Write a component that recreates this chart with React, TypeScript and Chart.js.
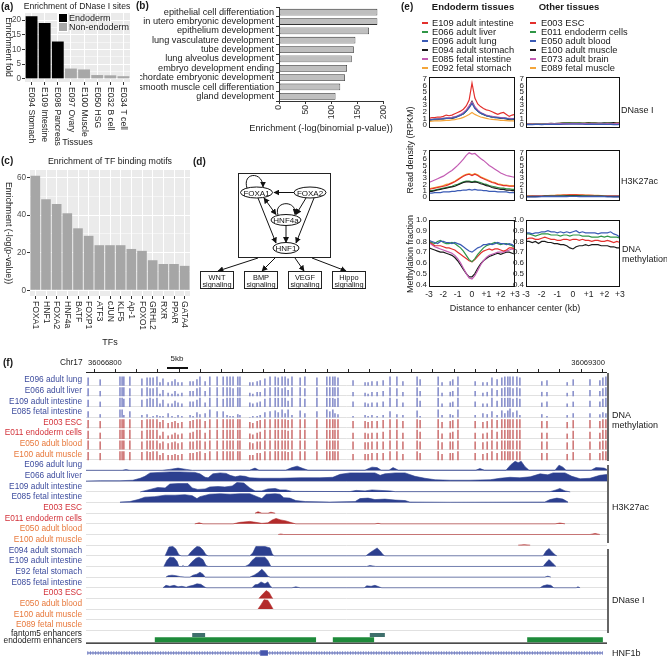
import React, { useEffect, useRef } from 'react';
import { Chart, registerables } from 'chart.js';

Chart.register(...registerables);
const FONT = "'Liberation Sans', Arial, Helvetica, sans-serif";
Chart.defaults.font.family = FONT;
Chart.defaults.color = '#222';

// ================= (a) DNase I enrichment =================
const tissueNames = ['E094 Stomach', 'E109 Intestine', 'E098 Pancreas', 'E097 Ovary', 'E100 Muscle', 'E050 HSG', 'E032 B cell', 'E034 T cell'];
const tissueFold = [21.3, 19.0, 12.7, 3.5, 3.2, 1.3, 1.2, 0.9];
const tissueIsEndoderm = [true, true, true, false, false, false, false, false];

// ================= (b) GO enrichment =================
const goTerms = ['epithelial cell differentiation', 'in utero embryonic development', 'epithelium development', 'lung vasculature development', 'tube development', 'lung alveolus development', 'embryo development ending', 'chordate embryonic development', 'smooth muscle cell differentiation', 'gland development'];
const goEnrichment = [188, 188, 172, 146, 143, 139, 130, 126, 117, 108];

// ================= (c) TF motifs =================
const tfNames = ['FOXA1', 'HNF1', 'FOXA2', 'HNF4a', 'BATF', 'FOXP1', 'ATF3', 'cJUN', 'KLF5', 'Ap-1', 'FOXO1', 'GRHL2', 'RXR', 'PPAR', 'GATA4'];
const tfEnrichment = [61, 48.5, 46, 41, 33, 29, 24, 24, 24, 22, 21, 16, 14, 14, 13];

// ================= (e) profiles =================
const distanceKb = [-3, -2.8, -2.6, -2.4, -2.2, -2, -1.8, -1.6, -1.4, -1.2, -1, -0.8, -0.6, -0.4, -0.2, 0, 0.2, 0.4, 0.6, 0.8, 1, 1.2, 1.4, 1.6, 1.8, 2, 2.2, 2.4, 2.6, 2.8, 3];
const distanceTickLabels = ['-3', '-2', '-1', '0', '+1', '+2', '+3'];
const endoLegend = ['E109 adult intestine', 'E066 adult liver', 'E096 adult lung', 'E094 adult stomach', 'E085 fetal intestine', 'E092 fetal stomach'];
const otherLegend = ['E003 ESC', 'E011 endoderm cells', 'E050 adult blood', 'E100 adult muscle', 'E073 adult brain', 'E089 fetal muscle'];
const legendColors = ['#e3302d', '#2f9646', '#3b5bb5', '#1a1a1a', '#c35cb3', '#f4a53b'];

const dnaseEndoRed = [1.0, 1.1, 1.1, 1.2, 1.2, 1.3, 1.5, 1.4, 1.5, 1.7, 1.9, 2.1, 2.4, 2.9, 3.8, 6.4, 4.1, 3.2, 2.8, 2.5, 2.3, 2.2, 2.0, 1.8, 1.6, 1.8, 1.9, 1.6, 1.3, 1.5, 1.6];
const dnaseEndoGreen = [0.8, 0.8, 0.9, 0.9, 0.9, 1.0, 1.0, 1.0, 1.1, 1.2, 1.3, 1.5, 1.7, 2.1, 2.7, 3.4, 2.6, 2.1, 1.8, 1.6, 1.4, 1.3, 1.2, 1.2, 1.1, 1.1, 1.1, 1.0, 0.9, 0.9, 1.0];
const dnaseEndoBlue = [0.8, 0.8, 0.85, 0.9, 0.9, 0.95, 1.0, 1.0, 1.05, 1.15, 1.3, 1.45, 1.7, 2.1, 2.6, 3.3, 2.5, 2.1, 1.8, 1.6, 1.4, 1.3, 1.2, 1.15, 1.1, 1.05, 1.0, 1.0, 0.9, 0.9, 0.95];
const dnaseEndoBlack = [0.7, 0.8, 0.8, 0.8, 0.9, 0.9, 1.0, 1.0, 1.0, 1.1, 1.3, 1.5, 1.7, 2.1, 2.8, 3.6, 2.7, 2.1, 1.8, 1.6, 1.4, 1.3, 1.2, 1.1, 1.1, 1.0, 1.0, 0.9, 0.8, 0.8, 0.9];
const dnaseEndoPurple = [0.8, 0.85, 0.9, 0.9, 0.95, 1.0, 1.05, 1.1, 1.15, 1.25, 1.4, 1.6, 1.9, 2.3, 2.9, 3.5, 2.8, 2.3, 1.9, 1.7, 1.5, 1.4, 1.3, 1.2, 1.2, 1.1, 1.1, 1.0, 1.0, 0.95, 1.0];
const dnaseEndoOrange = [0.5, 0.55, 0.6, 0.6, 0.6, 0.65, 0.7, 0.7, 0.75, 0.8, 0.9, 1.0, 1.15, 1.35, 1.6, 1.9, 1.6, 1.4, 1.2, 1.1, 1.0, 0.9, 0.85, 0.8, 0.75, 0.7, 0.7, 0.65, 0.6, 0.6, 0.6];

const dnaseOtherRed = [0.10, 0.12, 0.12, 0.10, 0.11, 0.13, 0.14, 0.12, 0.12, 0.11, 0.13, 0.15, 0.16, 0.18, 0.20, 0.22, 0.20, 0.18, 0.17, 0.16, 0.15, 0.18, 0.18, 0.15, 0.13, 0.15, 0.19, 0.18, 0.20, 0.24, 0.28];
const dnaseOtherGreen = [0.12, 0.13, 0.12, 0.14, 0.15, 0.14, 0.16, 0.15, 0.17, 0.18, 0.20, 0.22, 0.24, 0.26, 0.28, 0.30, 0.28, 0.26, 0.24, 0.22, 0.22, 0.24, 0.22, 0.20, 0.21, 0.22, 0.24, 0.22, 0.20, 0.22, 0.25];
const dnaseOtherBlue = [0.05, 0.06, 0.05, 0.06, 0.06, 0.05, 0.07, 0.06, 0.06, 0.07, 0.08, 0.09, 0.10, 0.10, 0.11, 0.12, 0.11, 0.10, 0.10, 0.09, 0.09, 0.10, 0.09, 0.08, 0.08, 0.07, 0.08, 0.06, 0.05, 0.05, 0.06];
const dnaseOtherBlack = [0.15, 0.16, 0.18, 0.16, 0.15, 0.18, 0.20, 0.20, 0.22, 0.21, 0.25, 0.26, 0.30, 0.30, 0.34, 0.36, 0.31, 0.30, 0.28, 0.30, 0.35, 0.32, 0.30, 0.26, 0.28, 0.30, 0.32, 0.30, 0.34, 0.30, 0.32];
const dnaseOtherPurple = [0.10, 0.10, 0.11, 0.12, 0.11, 0.12, 0.13, 0.14, 0.14, 0.15, 0.16, 0.18, 0.19, 0.20, 0.21, 0.22, 0.21, 0.20, 0.19, 0.18, 0.17, 0.18, 0.17, 0.16, 0.16, 0.17, 0.18, 0.17, 0.16, 0.18, 0.20];
const dnaseOtherOrange = [0.12, 0.13, 0.14, 0.13, 0.14, 0.15, 0.16, 0.17, 0.18, 0.18, 0.20, 0.22, 0.23, 0.25, 0.27, 0.28, 0.27, 0.25, 0.24, 0.23, 0.22, 0.23, 0.22, 0.21, 0.20, 0.21, 0.22, 0.21, 0.20, 0.22, 0.24];

const h3EndoPurple = [2.3, 2.5, 2.7, 2.9, 3.1, 3.3, 3.6, 3.9, 4.2, 4.6, 5.0, 5.5, 6.0, 6.6, 7.0, 6.8, 6.9, 6.5, 6.1, 5.8, 5.4, 5.0, 4.7, 4.4, 4.1, 3.8, 3.6, 3.4, 3.3, 3.2, 3.1];
const h3EndoOrange = [1.3, 1.4, 1.5, 1.6, 1.7, 1.8, 2.0, 2.1, 2.3, 2.5, 2.8, 3.1, 3.4, 3.6, 3.7, 3.5, 3.7, 3.5, 3.2, 3.0, 2.8, 2.6, 2.4, 2.3, 2.1, 2.0, 1.9, 1.9, 1.8, 1.8, 1.8];
const h3EndoRed = [1.2, 1.3, 1.4, 1.5, 1.6, 1.7, 1.8, 2.0, 2.2, 2.4, 2.7, 3.0, 3.3, 3.5, 3.6, 3.4, 3.6, 3.4, 3.1, 2.9, 2.7, 2.5, 2.3, 2.2, 2.0, 1.9, 1.8, 1.8, 1.7, 1.7, 1.7];
const h3EndoGreen = [1.0, 1.0, 1.1, 1.2, 1.3, 1.4, 1.5, 1.6, 1.7, 1.9, 2.0, 2.2, 2.4, 2.5, 2.5, 2.4, 2.5, 2.4, 2.3, 2.1, 2.0, 1.8, 1.7, 1.6, 1.5, 1.4, 1.4, 1.3, 1.3, 1.2, 1.2];
const h3EndoBlack = [0.9, 0.9, 1.0, 1.1, 1.2, 1.3, 1.4, 1.5, 1.6, 1.7, 1.9, 2.1, 2.3, 2.4, 2.4, 2.3, 2.4, 2.3, 2.1, 2.0, 1.8, 1.7, 1.5, 1.4, 1.3, 1.2, 1.2, 1.1, 1.1, 1.0, 1.0];
const h3EndoBlue = [0.6, 0.6, 0.7, 0.7, 0.7, 0.8, 0.8, 0.8, 0.9, 0.9, 1.0, 1.0, 1.1, 1.1, 1.2, 1.1, 1.2, 1.1, 1.1, 1.0, 1.0, 0.9, 0.9, 0.9, 0.8, 0.8, 0.8, 0.8, 0.7, 0.7, 0.7];

const h3OtherRed = [0.15, 0.15, 0.16, 0.17, 0.18, 0.18, 0.2, 0.2, 0.22, 0.23, 0.25, 0.26, 0.28, 0.3, 0.32, 0.33, 0.32, 0.3, 0.28, 0.27, 0.25, 0.24, 0.22, 0.21, 0.2, 0.2, 0.19, 0.18, 0.18, 0.17, 0.17];
const h3OtherGreen = [0.08, 0.08, 0.09, 0.1, 0.1, 0.11, 0.12, 0.12, 0.13, 0.14, 0.15, 0.16, 0.17, 0.18, 0.19, 0.2, 0.19, 0.18, 0.17, 0.16, 0.15, 0.14, 0.13, 0.13, 0.12, 0.12, 0.11, 0.11, 0.1, 0.1, 0.1];
const h3OtherBlue = [0.02, 0.02, 0.03, 0.03, 0.03, 0.04, 0.04, 0.04, 0.05, 0.05, 0.05, 0.06, 0.06, 0.06, 0.07, 0.07, 0.07, 0.06, 0.06, 0.06, 0.05, 0.05, 0.05, 0.04, 0.04, 0.04, 0.03, 0.03, 0.03, 0.03, 0.03];
const h3OtherBlack = [0.05, 0.05, 0.06, 0.06, 0.07, 0.07, 0.08, 0.08, 0.09, 0.09, 0.1, 0.1, 0.11, 0.12, 0.12, 0.13, 0.12, 0.12, 0.11, 0.1, 0.1, 0.09, 0.09, 0.08, 0.08, 0.07, 0.07, 0.07, 0.06, 0.06, 0.06];
const h3OtherPurple = [0.1, 0.1, 0.11, 0.12, 0.12, 0.13, 0.14, 0.15, 0.16, 0.17, 0.18, 0.19, 0.2, 0.21, 0.22, 0.22, 0.22, 0.21, 0.2, 0.19, 0.18, 0.17, 0.16, 0.15, 0.15, 0.14, 0.13, 0.13, 0.12, 0.12, 0.12];
const h3OtherOrange = [0.15, 0.16, 0.17, 0.18, 0.19, 0.2, 0.22, 0.23, 0.25, 0.27, 0.29, 0.31, 0.33, 0.35, 0.36, 0.36, 0.36, 0.34, 0.32, 0.3, 0.28, 0.26, 0.25, 0.24, 0.23, 0.22, 0.21, 0.2, 0.2, 0.19, 0.19];

const methEndoBlue = [0.81, 0.80, 0.79, 0.78, 0.80, 0.80, 0.79, 0.79, 0.78, 0.79, 0.78, 0.77, 0.75, 0.73, 0.71, 0.70, 0.72, 0.74, 0.75, 0.77, 0.77, 0.78, 0.77, 0.78, 0.79, 0.78, 0.78, 0.77, 0.78, 0.77, 0.75];
const methEndoGreen = [0.80, 0.79, 0.78, 0.80, 0.81, 0.79, 0.78, 0.78, 0.79, 0.78, 0.76, 0.74, 0.71, 0.67, 0.63, 0.61, 0.64, 0.68, 0.71, 0.74, 0.76, 0.77, 0.78, 0.79, 0.78, 0.77, 0.78, 0.78, 0.77, 0.76, 0.74];
const methEndoRed = [0.80, 0.78, 0.76, 0.76, 0.76, 0.75, 0.74, 0.74, 0.73, 0.72, 0.70, 0.68, 0.66, 0.64, 0.62, 0.61, 0.63, 0.66, 0.69, 0.71, 0.72, 0.73, 0.72, 0.73, 0.73, 0.72, 0.71, 0.72, 0.74, 0.74, 0.73];
const methEndoPurple = [0.79, 0.77, 0.75, 0.74, 0.73, 0.72, 0.71, 0.70, 0.69, 0.67, 0.64, 0.60, 0.55, 0.50, 0.46, 0.45, 0.48, 0.53, 0.58, 0.62, 0.65, 0.67, 0.68, 0.69, 0.70, 0.70, 0.70, 0.71, 0.72, 0.73, 0.72];
const methEndoBlack = [0.74, 0.73, 0.72, 0.71, 0.70, 0.70, 0.69, 0.68, 0.67, 0.65, 0.62, 0.58, 0.54, 0.50, 0.47, 0.47, 0.50, 0.55, 0.59, 0.62, 0.64, 0.66, 0.67, 0.68, 0.69, 0.68, 0.69, 0.70, 0.70, 0.69, 0.68];

const methOtherBlue = [0.88, 0.88, 0.87, 0.88, 0.88, 0.89, 0.89, 0.90, 0.89, 0.89, 0.88, 0.89, 0.88, 0.89, 0.88, 0.89, 0.90, 0.88, 0.89, 0.88, 0.88, 0.88, 0.88, 0.87, 0.88, 0.88, 0.88, 0.89, 0.87, 0.86, 0.84];
const methOtherGreen = [0.87, 0.87, 0.86, 0.85, 0.86, 0.87, 0.87, 0.87, 0.86, 0.86, 0.86, 0.85, 0.86, 0.86, 0.85, 0.86, 0.86, 0.86, 0.85, 0.85, 0.85, 0.84, 0.84, 0.84, 0.85, 0.84, 0.85, 0.84, 0.84, 0.84, 0.83];
const methOtherRed = [0.82, 0.83, 0.83, 0.82, 0.82, 0.83, 0.84, 0.83, 0.82, 0.82, 0.81, 0.81, 0.82, 0.82, 0.81, 0.82, 0.82, 0.81, 0.82, 0.81, 0.81, 0.80, 0.81, 0.81, 0.80, 0.80, 0.81, 0.80, 0.79, 0.80, 0.79];
const methOtherBlack = [0.80, 0.80, 0.79, 0.80, 0.78, 0.80, 0.80, 0.79, 0.79, 0.78, 0.78, 0.77, 0.77, 0.76, 0.74, 0.73, 0.75, 0.76, 0.76, 0.77, 0.76, 0.77, 0.77, 0.77, 0.76, 0.76, 0.76, 0.75, 0.75, 0.74, 0.74];

// ================= (f) genome browser =================
const trackNames = ['E096 adult lung', 'E066 adult liver', 'E109 adult intestine', 'E085 fetal intestine', 'E003 ESC', 'E011 endoderm cells', 'E050 adult blood', 'E100 adult muscle',
  'E096 adult lung', 'E066 adult liver', 'E109 adult intestine', 'E085 fetal intestine', 'E003 ESC', 'E011 endoderm cells', 'E050 adult blood', 'E100 adult muscle',
  'E094 adult stomach', 'E109 adult intestine', 'E92 fetal stomach', 'E085 fetal intestine', 'E003 ESC', 'E050 adult blood', 'E100 adult muscle', 'E089 fetal muscle'];
const trackGroup = ['endo', 'endo', 'endo', 'endo', 'esc', 'esc', 'adult', 'adult', 'endo', 'endo', 'endo', 'endo', 'esc', 'esc', 'adult', 'adult', 'endo', 'endo', 'endo', 'endo', 'esc', 'adult', 'adult', 'adult'];
const windowKb = 121.16;
const coordTickStartKb = 4.42;
const coordTickStepKb = 4.92;

// CpG positions (kb from window start) and methylation levels (tenths)
const cpgKb = [0.5, 3.3, 7.9, 8.4, 8.8, 10.2, 13.0, 14.2, 14.9, 15.6,
  16.5, 17.2, 17.9, 19.1, 20.0, 20.7, 21.4, 22.3, 24.2, 24.9,
  25.8, 26.5, 27.7, 28.8, 30.5, 31.9, 32.8, 33.5, 34.2, 35.3,
  35.8, 38.1, 38.8, 39.8, 40.5, 41.6, 42.8, 44.0, 44.7, 45.6,
  46.3, 47.0, 47.9, 49.8, 50.9, 53.7, 56.0, 56.7, 57.4, 57.9,
  58.6, 62.1, 64.9, 65.6, 66.5, 67.7, 69.1, 70.7, 72.3, 73.7,
  77.0, 77.7, 81.9, 82.8, 84.7, 85.3, 86.5, 90.5, 92.3, 93.3,
  94.4, 95.6, 96.7, 97.4, 98.1, 98.6, 99.3, 100.2, 100.9, 106.0,
  107.2, 111.9, 113.3, 117.2, 119.5, 120.2, 120.9];
const methLung = [8, 6, 9, 9, 9, 9, 7, 8, 8, 8, 9, 3, 7, 3, 4, 6, 3, 3, 4, 4, 6, 9, 4, 9, 9, 9, 9, 9, 9, 9, 9, 3, 3, 4, 5, 7, 9, 9, 8, 9, 9, 7, 9, 8, 9, 8, 9, 9, 9, 9, 8, 5, 3, 3, 4, 4, 5, 9, 9, 4, 9, 6, 9, 3, 4, 6, 9, 4, 3, 3, 8, 6, 8, 9, 9, 9, 9, 9, 8, 4, 5, 3, 6, 6, 5, 8, 9];
const methLiver = [8, 5, 9, 9, 9, 8, 8, 9, 8, 8, 9, 2, 6, 3, 2, 5, 2, 3, 5, 5, 8, 9, 5, 9, 9, 9, 9, 9, 8, 9, 9, 3, 2, 4, 4, 8, 9, 9, 9, 8, 9, 6, 9, 9, 8, 9, 9, 9, 9, 9, 9, 4, 3, 2, 4, 4, 5, 9, 8, 4, 9, 5, 9, 3, 4, 5, 9, 5, 3, 4, 8, 6, 8, 9, 9, 9, 8, 9, 8, 4, 4, 3, 5, 6, 5, 8, 9];
const methIntestine = [7, 5, 9, 9, 8, 9, 7, 8, 9, 8, 9, 3, 7, 3, 3, 6, 4, 3, 5, 5, 7, 9, 4, 9, 9, 8, 9, 9, 9, 9, 9, 4, 3, 4, 5, 8, 9, 9, 9, 9, 9, 6, 9, 9, 8, 9, 9, 9, 9, 8, 9, 5, 4, 3, 4, 4, 5, 9, 8, 4, 9, 6, 9, 3, 4, 5, 9, 5, 3, 3, 9, 6, 9, 9, 9, 9, 8, 9, 8, 4, 5, 3, 5, 6, 5, 8, 9];
const methFetalIntestine = [6, 3, 8, 8, 2, 6, 2, 3, 0, 1, 2, 1, 1, 4, 1, 0, 2, 1, 2, 1, 5, 3, 4, 8, 6, 6, 2, 1, 1, 3, 2, 0, 1, 1, 2, 5, 6, 7, 5, 8, 4, 8, 2, 7, 4, 6, 8, 6, 8, 4, 3, 1, 2, 1, 2, 1, 2, 6, 3, 2, 7, 1, 8, 2, 3, 2, 8, 2, 4, 3, 6, 2, 7, 4, 7, 9, 5, 7, 2, 3, 1, 2, 4, 4, 3, 5, 4];
const methESC = [8, 7, 9, 9, 9, 9, 8, 9, 9, 9, 9, 6, 8, 5, 6, 7, 5, 6, 7, 8, 9, 9, 7, 9, 9, 9, 9, 9, 9, 9, 9, 6, 5, 7, 8, 9, 9, 9, 9, 9, 9, 8, 9, 9, 9, 9, 9, 9, 9, 9, 9, 7, 7, 6, 7, 7, 8, 9, 9, 7, 9, 8, 9, 6, 7, 8, 9, 7, 6, 7, 9, 8, 9, 9, 9, 9, 9, 9, 9, 7, 7, 6, 8, 8, 7, 9, 9];
const methEndodermCells = [8, 6, 9, 9, 9, 9, 8, 9, 9, 9, 9, 3, 7, 3, 4, 6, 4, 5, 6, 7, 9, 9, 6, 9, 9, 9, 9, 9, 9, 9, 9, 5, 4, 6, 7, 9, 9, 9, 9, 9, 9, 8, 9, 9, 9, 9, 9, 9, 9, 9, 9, 6, 6, 5, 6, 6, 7, 9, 9, 6, 9, 7, 9, 5, 6, 7, 9, 6, 5, 6, 9, 7, 9, 9, 9, 9, 9, 9, 9, 6, 6, 5, 8, 7, 6, 9, 9];
const methBlood = [9, 8, 9, 9, 9, 9, 8, 9, 9, 9, 9, 6, 8, 6, 7, 8, 6, 7, 8, 8, 9, 9, 8, 9, 9, 9, 9, 9, 9, 9, 9, 7, 6, 8, 8, 9, 9, 9, 9, 9, 9, 9, 9, 9, 9, 9, 9, 9, 9, 9, 9, 8, 7, 7, 8, 8, 8, 9, 9, 8, 9, 8, 9, 7, 8, 8, 9, 8, 7, 8, 9, 8, 9, 9, 9, 9, 9, 9, 9, 8, 8, 7, 9, 8, 8, 9, 9];
const methMuscle = [8, 7, 9, 9, 9, 8, 8, 9, 8, 9, 9, 5, 7, 5, 5, 6, 5, 6, 7, 7, 8, 9, 7, 9, 9, 9, 9, 9, 9, 9, 9, 5, 5, 7, 7, 9, 9, 9, 9, 9, 9, 8, 9, 9, 9, 9, 9, 9, 9, 9, 9, 6, 6, 6, 7, 7, 7, 9, 9, 6, 9, 7, 9, 6, 7, 7, 9, 7, 6, 7, 9, 7, 9, 9, 9, 9, 9, 9, 9, 7, 7, 6, 8, 7, 7, 9, 9];
const methylationRows = [methLung, methLiver, methIntestine, methFetalIntestine, methESC, methEndodermCells, methBlood, methMuscle];

// Signal tracks: [kb, relative level]
const h3Lung = [[0, 0.03], [8.4, 0.03], [9.3, 0.1], [10.2, 0.03], [17.7, 0.03], [19.5, 0.12], [21.4, 0.25], [23.3, 0.12], [24.7, 0.03], [38.1, 0.05], [39.3, 0.25], [40.2, 0.05], [46.5, 0.05], [47.9, 0.3], [49.1, 0.45], [50.5, 0.2], [51.6, 0.05], [64.9, 0.05], [66.5, 0.35], [67.7, 0.3], [68.6, 0.05], [70.5, 0.05], [71.4, 0.3], [72.6, 0.05], [90.7, 0.05], [91.6, 0.2], [92.6, 0.05], [97.7, 0.05], [98.8, 0.6], [99.8, 0.95], [100.5, 0.8], [101.2, 0.95], [102.1, 0.4], [103.0, 0.05], [109.1, 0.05], [110.0, 0.55], [110.9, 0.35], [111.6, 0.05], [117.5, 0.05], [118.6, 0.3], [120.5, 0.25], [121.2, 0.1]];
const h3Liver = [[0, 0.02], [3.3, 0.05], [7.9, 0.05], [10.9, 0.1], [12.6, 0.3], [13.7, 0.5], [14.9, 0.85], [17.2, 0.9], [19.5, 0.95], [21.9, 0.95], [25.3, 0.9], [26.5, 0.75], [27.7, 0.4], [28.4, 0.35], [29.5, 0.75], [31.2, 0.85], [32.6, 0.8], [33.5, 0.6], [34.7, 0.45], [35.8, 0.55], [37.0, 0.5], [38.1, 0.35], [40.5, 0.3], [45.1, 0.3], [49.8, 0.35], [54.4, 0.35], [57.4, 0.4], [59.1, 0.7], [61.4, 0.85], [63.7, 0.85], [67.2, 0.85], [68.4, 0.6], [69.5, 0.75], [71.9, 0.85], [74.2, 0.85], [76.5, 0.5], [78.8, 0.3], [81.2, 0.15], [84.7, 0.1], [89.3, 0.1], [94.0, 0.15], [96.3, 0.3], [98.6, 0.4], [100.9, 0.35], [103.3, 0.45], [105.6, 0.75], [107.4, 0.65], [108.6, 0.85], [111.4, 0.85], [113.0, 0.5], [114.9, 0.25], [117.2, 0.3], [119.5, 0.6], [121.2, 0.7]];
const h3Intestine = [[12.6, 0], [14.9, 0.25], [16.7, 0.45], [18.4, 0.4], [19.5, 0.8], [21.4, 0.85], [23.7, 0.85], [24.7, 0.4], [26.0, 0.25], [27.7, 0.3], [28.8, 0.5], [30.7, 0.55], [32.3, 0.5], [34.0, 0.6], [35.1, 0.95], [36.7, 0.9], [38.1, 0.4], [39.3, 0.1], [40.9, 0.1], [42.3, 0.3], [44.0, 0.35], [45.1, 0.2], [46.5, 0.2], [47.9, 0.05], [61.4, 0.03], [62.8, 0.15], [64.9, 0.1], [66.5, 0.2], [68.4, 0.15], [70.7, 0.1], [71.9, 0.02], [107.9, 0.02], [109.3, 0.2], [110.2, 0.35], [111.4, 0.1], [112.6, 0]];
const h3FetalIntestine = [[7.9, 0.05], [10.2, 0.1], [12.1, 0.3], [13.7, 0.55], [16.0, 0.6], [18.4, 0.75], [20.7, 0.75], [23.0, 0.8], [24.7, 0.7], [25.8, 0.4], [26.5, 0.6], [28.8, 0.85], [31.2, 0.9], [33.5, 0.85], [35.8, 0.9], [38.1, 0.9], [39.8, 0.6], [40.9, 0.4], [41.9, 0.85], [44.0, 0.9], [45.1, 0.85], [46.0, 0.5], [47.4, 0.45], [48.8, 0.2], [51.0, 0.1], [56.7, 0.05], [62.6, 0.1], [63.7, 0.4], [65.6, 0.45], [67.2, 0.3], [69.5, 0.35], [71.9, 0.25], [74.2, 0.2], [75.3, 0.05], [84.7, 0.03], [106.7, 0.05], [107.9, 0.3], [109.5, 0.45], [110.9, 0.35], [112.1, 0.05]];
const h3ESC = [[39.3, 0], [40.0, 0.15], [40.9, 0], [42.3, 0], [43.0, 0.1], [44.0, 0]];
const h3EndodermCells = [[25.3, 0], [26.3, 0.1], [27.2, 0], [34.2, 0], [35.8, 0.15], [38.1, 0.25], [39.5, 0.15], [40.9, 0.05], [42.3, 0.1], [43.3, 0.4], [44.2, 0.55], [45.3, 0.4], [46.5, 0.3], [47.9, 0.1], [48.8, 0], [67.2, 0], [67.9, 0.05], [68.6, 0], [109.1, 0], [110.2, 0.08], [111.4, 0]];
const h3Blood = [[44.7, 0], [45.3, 0.05], [46.0, 0], [117.2, 0], [118.4, 0.1], [119.5, 0]];
const h3Muscle = [[100.5, 0], [101.9, 0.05], [103.3, 0]];
const dnStomach = [[18.4, 0], [18.8, 0.4], [19.3, 0.9], [20.2, 0.95], [20.9, 0.7], [21.6, 0.1], [22.1, 0], [23.7, 0], [24.4, 0.4], [25.1, 0.7], [25.8, 0.95], [26.5, 0.9], [27.2, 0.6], [27.9, 0.1], [28.4, 0], [38.1, 0], [38.8, 0.3], [39.5, 0.95], [41.6, 0.95], [42.8, 0.8], [43.3, 0.2], [43.7, 0], [65.1, 0], [66.0, 0.3], [67.0, 0.6], [67.7, 0.8], [68.4, 0.5], [69.1, 0.1], [69.5, 0], [106.3, 0], [107.0, 0.5], [107.7, 0.75], [108.4, 0.4], [109.1, 0.1], [109.5, 0]];
const dnIntestine = [[18.1, 0], [18.8, 0.6], [19.5, 0.95], [20.5, 0.9], [21.2, 0.5], [21.6, 0], [22.3, 0], [22.6, 0.1], [22.8, 0], [23.7, 0], [24.7, 0.5], [25.6, 0.85], [26.3, 0.95], [27.2, 0.7], [27.9, 0.1], [28.4, 0], [37.0, 0], [37.9, 0.2], [38.6, 0.6], [39.5, 0.95], [41.6, 0.95], [42.3, 0.6], [43.0, 0], [65.3, 0], [66.0, 0.1], [66.7, 0.05], [67.4, 0], [106.3, 0], [107.0, 0.4], [107.7, 0.7], [108.6, 0.3], [109.3, 0]];
const dnFetalStomach = [[18.6, 0], [19.1, 0.15], [20.0, 0.2], [20.9, 0.15], [21.9, 0.05], [23.0, 0], [24.2, 0], [24.9, 0.2], [25.8, 0.3], [26.5, 0.5], [27.2, 0.3], [27.7, 0], [38.1, 0], [39.1, 0.2], [40.0, 0.45], [40.9, 0.8], [41.6, 0.5], [42.3, 0.1], [42.8, 0], [106.7, 0], [107.4, 0.1], [108.1, 0]];
const dnFetalIntestine = [[17.9, 0], [18.6, 0.25], [19.5, 0.15], [20.5, 0.25], [21.4, 0.1], [22.3, 0.15], [23.3, 0.05], [23.9, 0.15], [24.9, 0.25], [25.8, 0.4], [26.7, 0.35], [27.7, 0.05], [28.1, 0], [38.6, 0], [39.3, 0.3], [40.0, 0.35], [40.7, 0.6], [41.6, 0.4], [42.3, 0.6], [42.8, 0.2], [43.3, 0], [47.9, 0], [48.8, 0.1], [49.8, 0], [64.7, 0], [65.3, 0.2], [66.3, 0.15], [67.2, 0.25], [68.4, 0.05], [68.8, 0], [105.6, 0], [106.3, 0.2], [107.2, 0.3], [108.1, 0.25], [108.8, 0], [114.0, 0], [114.4, 0.1], [114.9, 0]];
const dnESC = [[40.2, 0], [40.9, 0.35], [41.9, 0.8], [42.6, 0.6], [43.3, 0.05], [43.5, 0]];
const dnBlood = [[40.0, 0], [40.7, 0.45], [41.4, 0.95], [42.3, 0.9], [43.0, 0.4], [43.5, 0]];
const signalTracks = [
  { row: 8, pts: h3Lung }, { row: 9, pts: h3Liver }, { row: 10, pts: h3Intestine }, { row: 11, pts: h3FetalIntestine },
  { row: 12, pts: h3ESC }, { row: 13, pts: h3EndodermCells }, { row: 14, pts: h3Blood }, { row: 15, pts: h3Muscle },
  { row: 16, pts: dnStomach }, { row: 17, pts: dnIntestine }, { row: 18, pts: dnFetalStomach }, { row: 19, pts: dnFetalIntestine },
  { row: 20, pts: dnESC }, { row: 21, pts: dnBlood },
];
const fantom5Enhancers = [[24.7, 27.7], [66.0, 69.5]];
const endodermEnhancers = [[16.0, 53.5], [57.4, 67.0], [102.6, 120.2]];
const hnf1bSpan = [0.3, 120.2];
const hnf1bExons = [[40.5, 42.3]];

// ================= helpers =================
const LABEL_COLORS: any = { endo: '#3d4c9e', esc: '#d3323a', adult: '#e8793c' };

function ChartCanvas(props: any) {
  const { x, y, w, h, make } = props;
  const ref = useRef<HTMLCanvasElement>(null);
  useEffect(() => {
    const chart = new Chart(ref.current as HTMLCanvasElement, make());
    return () => chart.destroy();
  }, []);
  return <canvas ref={ref} width={w} height={h} style={{ position: 'absolute', left: x, top: y, width: w, height: h }} />;
}

function T(props: any) {
  const { x, y, s = 9, c = '#1a1a1a', b = false, a = 'start', children } = props;
  const tx = a === 'start' ? '0%' : a === 'end' ? '-100%' : '-50%';
  return <div style={{ position: 'absolute', left: x, top: y, transform: `translate(${tx}, -50%)`, fontSize: s, lineHeight: 1.15, color: c, fontWeight: b ? 700 : 400, whiteSpace: 'nowrap' }}>{children}</div>;
}

function V(props: any) {
  const { x, y, s = 9, c = '#1a1a1a', up = false, children } = props;
  return <div style={{ position: 'absolute', left: x, top: y, transform: `translate(-50%, -50%)${up ? ' rotate(180deg)' : ''}`, writingMode: 'vertical-rl', fontSize: s, lineHeight: 1.1, color: c, whiteSpace: 'nowrap' }}>{children}</div>;
}

const panelBg = (color: string) => ({
  id: 'panelBg',
  beforeDraw(chart: any) {
    const { ctx, chartArea: a } = chart;
    ctx.save();
    ctx.fillStyle = color;
    ctx.fillRect(a.left, a.top, a.right - a.left, a.bottom - a.top);
    ctx.restore();
  },
});

const downLabels = (labels: string[], size: number) => ({
  id: 'downLabels',
  afterDraw(chart: any) {
    const sc = chart.scales.x;
    const ctx = chart.ctx;
    ctx.save();
    ctx.font = `${size}px ${FONT}`;
    ctx.fillStyle = '#262626';
    ctx.textAlign = 'left';
    ctx.textBaseline = 'middle';
    labels.forEach((l, i) => {
      ctx.save();
      ctx.translate(sc.getPixelForValue(i), sc.top + 5);
      ctx.rotate(Math.PI / 2);
      ctx.fillText(l, 0, 0);
      ctx.restore();
    });
    ctx.restore();
  },
});

const frameBox = {
  id: 'frameBox',
  afterDraw(chart: any) {
    const { ctx, chartArea: a } = chart;
    ctx.save();
    ctx.strokeStyle = '#111';
    ctx.lineWidth = 1;
    ctx.strokeRect(Math.round(a.left) + 0.5, Math.round(a.top) + 0.5, Math.round(a.right - a.left) - 1, Math.round(a.bottom - a.top) - 1);
    ctx.restore();
  },
};

const baseOpts = { responsive: false, animation: false, devicePixelRatio: 1, events: [] };

function ggBar(labels: string[], values: number[], colors: string[], yMin: number, yMax: number, minor: number, major: number, padTop: number, padRight: number, yWidth: number, xHeight: number, xTitle: string) {
  const isMajor = (v: number) => Math.abs(v % major) < 1e-6;
  return {
    type: 'bar',
    data: { labels, datasets: [{ data: values, backgroundColor: colors, barPercentage: 0.9, categoryPercentage: 1 }] },
    options: {
      ...baseOpts,
      layout: { padding: { top: padTop, right: padRight, left: 0, bottom: 0 } },
      plugins: { legend: { display: false }, tooltip: { enabled: false } },
      scales: {
        x: {
          grid: { color: '#ffffff', offset: false, tickLength: 3, tickColor: '#333', lineWidth: 1 },
          border: { display: false },
          ticks: { display: false },
          title: { display: true, text: xTitle, font: { size: 9 }, color: '#1a1a1a', padding: { top: 0, bottom: 2 } },
          afterFit: (s: any) => { s.height = xHeight; },
        },
        y: {
          min: yMin, max: yMax,
          ticks: { stepSize: minor, autoSkip: false, includeBounds: false, callback: (v: number) => (isMajor(v) ? String(v) : ''), font: { size: 8.2 }, color: '#4d4d4d', padding: 1 },
          grid: {
            color: '#ffffff',
            lineWidth: (c: any) => (c.tick && isMajor(c.tick.value) ? 1 : 0.5),
            tickLength: 3,
            tickColor: (c: any) => (c.tick && isMajor(c.tick.value) ? '#333' : 'rgba(0,0,0,0)'),
          },
          border: { display: false },
          afterFit: (s: any) => { s.width = yWidth; },
        },
      },
    },
    plugins: [panelBg('#ebebeb'), downLabels(labels, 8.6)],
  };
}

function makeA() {
  return ggBar(tissueNames, tissueFold, tissueIsEndoderm.map((e) => (e ? '#000000' : '#a8a8a8')), -1.07, 22.4, 2.5, 5, 13, 5, 25, 68, 'Tissues');
}
function makeC() {
  return ggBar(tfNames, tfEnrichment, tfNames.map(() => '#a6a6a6'), -3.05, 64.05, 10, 20, 20, 10, 30, 54, 'TFs');
}

function makeB() {
  return {
    type: 'bar',
    data: { labels: goTerms, datasets: [{ data: goEnrichment, backgroundColor: '#bfbfbf', borderColor: '#333', borderWidth: 0.8, borderSkipped: false, barPercentage: 0.72, categoryPercentage: 1 }] },
    options: {
      ...baseOpts,
      indexAxis: 'y',
      layout: { padding: { top: 6, right: 6, left: 0, bottom: 0 } },
      plugins: { legend: { display: false }, tooltip: { enabled: false } },
      scales: {
        x: {
          min: 0, max: 200,
          ticks: { stepSize: 50, minRotation: 90, maxRotation: 90, autoSkip: false, font: { size: 8.6 }, color: '#333', padding: 1 },
          grid: { drawOnChartArea: false, tickLength: 3, tickColor: '#333' },
          border: { display: true, color: '#333', width: 1 },
          afterFit: (s: any) => { s.height = 35; },
        },
        y: {
          ticks: { autoSkip: false, font: { size: 9.2 }, color: '#1a1a1a', padding: 2 },
          grid: { drawOnChartArea: false, tickLength: 3, tickColor: '#333' },
          border: { display: true, color: '#333', width: 1 },
          afterFit: (s: any) => { s.width = 139; },
        },
      },
    },
  };
}

function profile(series: number[][], colors: string[], yMin: number, yMax: number, step: number, fmt: (v: number) => string, showX: boolean, padRight: number, padTop: number, padBottom: number) {
  return {
    type: 'line',
    data: {
      datasets: series.map((vals, i) => ({
        data: distanceKb.map((x, j) => ({ x, y: vals[j] })),
        borderColor: colors[i], borderWidth: 1.2, pointRadius: 0, tension: 0, fill: false,
      })),
    },
    options: {
      ...baseOpts,
      layout: { padding: { top: padTop, right: padRight, left: 0, bottom: padBottom } },
      plugins: { legend: { display: false }, tooltip: { enabled: false } },
      scales: {
        x: {
          type: 'linear', min: -3, max: 3, display: showX,
          ticks: { stepSize: 1, maxRotation: 0, autoSkip: false, font: { size: 8.6 }, color: '#222', padding: 2, callback: (v: number, i: number) => distanceTickLabels[i] ?? String(v) },
          grid: { display: false, drawTicks: false },
          border: { display: false },
          afterFit: (s: any) => { s.height = 12; },
        },
        y: {
          min: yMin, max: yMax,
          ticks: { stepSize: step, autoSkip: false, includeBounds: false, font: { size: 8 }, color: '#222', padding: 2, callback: fmt },
          grid: { display: false, drawTicks: false },
          border: { display: false },
          afterFit: (s: any) => { s.width = 17; },
        },
      },
    },
    plugins: [frameBox],
  };
}

const int = (v: number) => String(Math.round(v));
const dec = (v: number) => v.toFixed(1);

function makeTracks() {
  const datasets: any[] = [];
  const lineSeg = (segs: number[][], y: number, color: string, width: number, dash?: number[]) => ({
    type: 'line',
    data: segs.flatMap(([a, b]) => [{ x: a, y }, { x: b, y }, { x: b, y: null }]),
    borderColor: color, borderWidth: width, pointRadius: 0, fill: false, spanGaps: false, borderDash: dash || [],
  });
  datasets.push(lineSeg(hnf1bExons, 26.12, '#4656ad', 5.5));
  datasets.push(lineSeg([hnf1bSpan], 26.12, '#7884c6', 3.5, [1, 1.6]));
  datasets.push(lineSeg([hnf1bSpan], 26.12, '#3b4ba3', 1));
  datasets.push(lineSeg(fantom5Enhancers, 24.43, '#3f6f6c', 4));
  datasets.push(lineSeg(endodermEnhancers, 24.88, '#1e8a3a', 5));
  datasets.push(lineSeg([[0, windowKb]], 25.2, '#111111', 1.3));
  signalTracks.forEach(({ row, pts }) => {
    const color = trackGroup[row] === 'endo' ? '#2c3f8f' : '#b32b2b';
    datasets.push({
      type: 'line',
      data: pts.map(([x, v]) => ({ x, y: row + 1 - v * 0.92 })),
      borderColor: color, backgroundColor: color, borderWidth: 0.6, pointRadius: 0, tension: 0,
      fill: { value: row + 1 },
    });
  });
  methylationRows.forEach((vals, r) => {
    datasets.push({
      type: 'bar',
      data: cpgKb.map((x, j) => ({ x, y: [r + 1, r + 1 - (vals[j] / 10) * 0.88] })),
      backgroundColor: trackGroup[r] === 'endo' ? 'rgba(120,128,196,0.85)' : 'rgba(200,100,100,0.85)',
      barThickness: 1, grouped: false, borderWidth: 0,
    });
  });
  return {
    type: 'line',
    data: { datasets },
    options: {
      ...baseOpts,
      layout: { padding: 0 },
      plugins: { legend: { display: false }, tooltip: { enabled: false } },
      scales: {
        x: {
          type: 'linear', position: 'top', min: 0, max: windowKb, offset: false,
          afterBuildTicks: (s: any) => {
            const t = [];
            for (let v = coordTickStartKb; v < windowKb; v += coordTickStepKb) t.push({ value: v });
            s.ticks = t;
          },
          ticks: { display: false },
          grid: { drawOnChartArea: false, drawTicks: true, tickLength: 3, tickColor: '#222' },
          border: { display: true, color: '#222', width: 1 },
          afterFit: (s: any) => { s.height = 4; },
        },
        y: {
          type: 'linear', reverse: true, min: -0.25, max: 26.59,
          ticks: { display: false, stepSize: 1, includeBounds: false, autoSkip: false },
          grid: { drawTicks: false, lineWidth: 0.8, color: (c: any) => (c.tick && c.tick.value >= 1 && c.tick.value <= 24 ? '#d9d9d9' : 'rgba(0,0,0,0)') },
          border: { display: false },
          afterFit: (s: any) => { s.width = 0; },
        },
      },
    },
  };
}

function Network() {
  const boxes = [['WNT', 200], ['BMP', 244], ['VEGF', 288], ['Hippo', 332]];
  return (
    <svg width={667} height={658} style={{ position: 'absolute', left: 0, top: 0, pointerEvents: 'none' }} fontFamily={FONT}>
      <defs>
        <marker id="ah" viewBox="0 0 10 10" refX="9" refY="5" markerWidth="6" markerHeight="6" orient="auto-start-reverse">
          <path d="M0,0 L10,5 L0,10 z" fill="#111" />
        </marker>
      </defs>
      <rect x={238.5} y={173.5} width={92} height={84} fill="none" stroke="#222" strokeWidth={1} />
      <g stroke="#111" strokeWidth={1} fill="none">
        <path d="M294,192.5 L274,192.5" markerEnd="url(#ah)" />
        <path d="M247,188 C242,172 263,171 263,187" markerEnd="url(#ah)" />
        <path d="M264,198 L276,214.5" markerStart="url(#ah)" markerEnd="url(#ah)" />
        <path d="M278,215 C273,201 297,199 295,214.5" markerEnd="url(#ah)" />
        <path d="M306,198 L296,214.5" markerEnd="url(#ah)" />
        <path d="M258,198 L276,243" markerEnd="url(#ah)" />
        <path d="M314,198 L296,243" markerEnd="url(#ah)" />
        <path d="M286,225.5 L286,242.5" markerEnd="url(#ah)" />
        <path d="M258,258 L218,271" markerEnd="url(#ah)" />
        <path d="M275,258 L262,271" markerEnd="url(#ah)" />
        <path d="M295,258 L304,271" markerEnd="url(#ah)" />
        <path d="M312,258 L346,271" markerEnd="url(#ah)" />
      </g>
      <g stroke="#111" strokeWidth={1} fill="#fff">
        <ellipse cx={256.5} cy={192.5} rx={16} ry={5.5} />
        <ellipse cx={310} cy={192.5} rx={16} ry={5.5} />
        <ellipse cx={286} cy={220} rx={15} ry={5.5} />
        <ellipse cx={286} cy={248} rx={13} ry={5.5} />
      </g>
      <g fontSize={8} textAnchor="middle" dominantBaseline="central" fill="#111">
        <text x={256.5} y={193}>FOXA1</text>
        <text x={310} y={193}>FOXA2</text>
        <text x={286} y={220.5}>HNF4a</text>
        <text x={286} y={248.5}>HNF1</text>
      </g>
      {boxes.map(([name, x]: any) => (
        <g key={name}>
          <rect x={x + 0.5} y={271.5} width={33} height={17} fill="#fff" stroke="#222" strokeWidth={1} />
          <text x={x + 17} y={277} fontSize={7.4} textAnchor="middle" dominantBaseline="central" fill="#111">{name}</text>
          <text x={x + 17} y={284.5} fontSize={7.4} textAnchor="middle" dominantBaseline="central" fill="#111">signaling</text>
        </g>
      ))}
    </svg>
  );
}

export default function App() {
  const rowCenter = (i: number) => 380.2 + 10.65 * i;
  return (
    <div style={{ position: 'absolute', left: 0, top: 0, width: 667, height: 658, overflow: 'hidden', background: '#fff', fontFamily: FONT }}>
      {/* (a) */}
      <ChartCanvas x={0} y={0} w={135} h={150} make={makeA} />
      <T x={1} y={7} s={10} b>(a)</T>
      <T x={77} y={7} s={8.6} a="middle">Enrichment of DNase I sites</T>
      <V x={8} y={47} s={8.6}>Enrichment fold</V>
      <div style={{ position: 'absolute', left: 59, top: 14, width: 8, height: 8, background: '#000', outline: '1px solid #fff' }} />
      <div style={{ position: 'absolute', left: 59, top: 23, width: 8, height: 8, background: '#a8a8a8', outline: '1px solid #fff' }} />
      <T x={69} y={18} s={9}>Endoderm</T>
      <T x={69} y={27} s={9}>Non-endoderm</T>

      {/* (b) */}
      <ChartCanvas x={140} y={0} w={255} h={136} make={makeB} />
      <T x={136} y={6} s={10} b>(b)</T>
      <T x={321} y={128} s={9.2} a="middle">Enrichment (-log(binomial p-value))</T>

      {/* (c) */}
      <ChartCanvas x={0} y={150} w={200} h={200} make={makeC} />
      <T x={1} y={161} s={10} b>(c)</T>
      <T x={110} y={161} s={8.8} a="middle">Enrichment of TF binding motifs</T>
      <V x={8} y={233} s={8.8}>Enrichment (-log(p-value))</V>

      {/* (d) */}
      <T x={193} y={162} s={10} b>(d)</T>
      <Network />

      {/* (e) */}
      <T x={401} y={7} s={10} b>(e)</T>
      <T x={473} y={7} s={9.5} b a="middle">Endoderm tissues</T>
      <T x={569} y={7} s={9.5} b a="middle">Other tissues</T>
      {endoLegend.map((n, i) => (
        <React.Fragment key={'el' + i}>
          <div style={{ position: 'absolute', left: 422, top: 22 + 9 * i, width: 6, height: 1.5, background: legendColors[i] }} />
          <T x={432} y={22.7 + 9 * i} s={9.3}>{n}</T>
        </React.Fragment>
      ))}
      {otherLegend.map((n, i) => (
        <React.Fragment key={'ol' + i}>
          <div style={{ position: 'absolute', left: 530, top: 22 + 9 * i, width: 6, height: 1.5, background: legendColors[i] }} />
          <T x={541} y={22.7 + 9 * i} s={9.3}>{n}</T>
        </React.Fragment>
      ))}
      <ChartCanvas x={412} y={70} w={110} h={72} make={() => profile([dnaseEndoOrange, dnaseEndoBlue, dnaseEndoPurple, dnaseEndoGreen, dnaseEndoBlack, dnaseEndoRed], ['#f4a53b', '#3b5bb5', '#c35cb3', '#2f9646', '#1a1a1a', '#e3302d'], -0.48, 7.36, 1, int, false, 7, 4, 2)} />
      <ChartCanvas x={509} y={70} w={120} h={72} make={() => profile([dnaseOtherBlue, dnaseOtherPurple, dnaseOtherGreen, dnaseOtherOrange, dnaseOtherRed, dnaseOtherBlack], ['#3b5bb5', '#c35cb3', '#2f9646', '#f4a53b', '#e3302d', '#1a1a1a'], -0.48, 7.36, 1, int, false, 9, 4, 2)} />
      <ChartCanvas x={412} y={143} w={110} h={72} make={() => profile([h3EndoBlue, h3EndoBlack, h3EndoGreen, h3EndoRed, h3EndoOrange, h3EndoPurple], ['#3b5bb5', '#1a1a1a', '#2f9646', '#e3302d', '#f4a53b', '#c35cb3'], -0.64, 7.48, 1, int, false, 7, 4, 2)} />
      <ChartCanvas x={509} y={143} w={120} h={72} make={() => profile([h3OtherBlue, h3OtherBlack, h3OtherGreen, h3OtherPurple, h3OtherRed, h3OtherOrange], ['#3b5bb5', '#1a1a1a', '#2f9646', '#c35cb3', '#e3302d', '#f4a53b'], -0.64, 7.48, 1, int, false, 9, 4, 2)} />
      <ChartCanvas x={412} y={212} w={110} h={87} make={() => profile([methEndoBlue, methEndoGreen, methEndoRed, methEndoPurple, methEndoBlack], ['#3b5bb5', '#2f9646', '#e3302d', '#c35cb3', '#1a1a1a'], 0.375, 1.0, 0.1, dec, true, 7, 8, 0)} />
      <ChartCanvas x={509} y={212} w={120} h={87} make={() => profile([methOtherBlue, methOtherGreen, methOtherRed, methOtherBlack], ['#3b5bb5', '#2f9646', '#e3302d', '#1a1a1a'], 0.375, 1.0, 0.1, dec, true, 9, 8, 0)} />
      <V x={411} y={150} s={9} up>Read density (RPKM)</V>
      <V x={411} y={254} s={9} up>Methylation fraction</V>
      <T x={621} y={110} s={9}>DNase I</T>
      <T x={621} y={181} s={9}>H3K27ac</T>
      <T x={622} y={249} s={9}>DNA</T>
      <T x={622} y={259} s={9}>methylation</T>
      <T x={515} y={308} s={9} a="middle">Distance to enhancer center (kb)</T>

      {/* (f) */}
      <T x={3} y={363} s={10} b>(f)</T>
      <T x={60} y={363} s={8.3}>Chr17</T>
      <T x={88} y={363} s={7.6}>36066800</T>
      <T x={605} y={363} s={7.6} a="end">36069300</T>
      <T x={177} y={359} s={8} a="middle">5kb</T>
      <div style={{ position: 'absolute', left: 167, top: 367, width: 21, height: 1.5, background: '#111' }} />
      <ChartCanvas x={86} y={368} w={521} h={290} make={makeTracks} />
      {trackNames.map((n, i) => (
        <T key={'tn' + i} x={82} y={rowCenter(i)} s={8.3} a="end" c={LABEL_COLORS[trackGroup[i]]}>{n}</T>
      ))}
      <T x={82} y={634} s={8.3} a="end">fantom5 enhancers</T>
      <T x={82} y={640.5} s={8.3} a="end">endoderm enhancers</T>
      <div style={{ position: 'absolute', left: 607, top: 373, width: 2, height: 88, background: '#666' }} />
      <div style={{ position: 'absolute', left: 607, top: 465, width: 2, height: 78, background: '#666' }} />
      <div style={{ position: 'absolute', left: 607, top: 549, width: 2, height: 84, background: '#666' }} />
      <T x={612} y={415} s={9}>DNA</T>
      <T x={612} y={425} s={9}>methylation</T>
      <T x={612} y={507} s={9}>H3K27ac</T>
      <T x={612} y={600} s={9}>DNase I</T>
      <T x={612} y={653} s={9}>HNF1b</T>
    </div>
  );
}
